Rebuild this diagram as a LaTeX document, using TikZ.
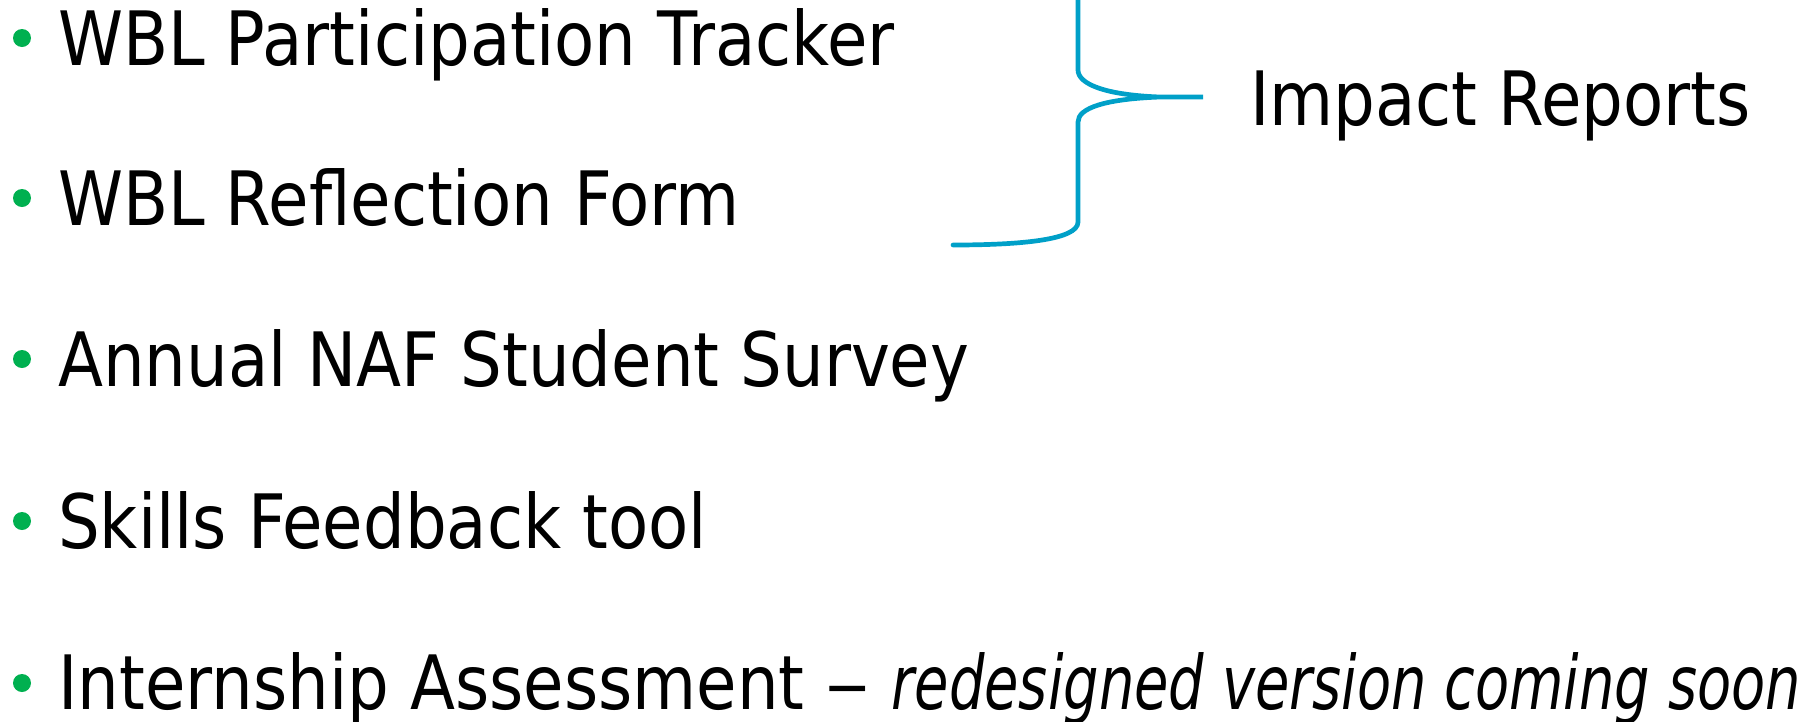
\documentclass[tikz,border=0pt]{standalone}
\usepackage{graphicx}
\usepackage{fontspec}
\setmainfont{DejaVu Sans}[FakeStretch=0.877]
\newfontfamily\reditfont{DejaVu Sans}[FakeStretch=0.745]
\definecolor{bulletgreen}{RGB}{0,176,80}
\definecolor{bracecol}{RGB}{0,160,200}
\tikzset{
  item/.style={anchor=base west, inner sep=0pt, font=\fontsize{75}{80}\selectfont},
  dot/.style={circle, fill=bulletgreen, inner sep=0pt, minimum size=18pt},
  bracepath/.style={draw=bracecol, line width=4.7pt, line cap=round},
}
\begin{document}
\begin{tikzpicture}[x=1pt,y=-1pt]
\useasboundingbox (0,0) rectangle (1814,721);
\node[dot] (b1) at (22,38) {};
\node[dot] (b2) at (22,198) {};
\node[dot] (b3) at (22,359) {};
\node[dot] (b4) at (22,521) {};
\node[dot] (b5) at (22,683) {};
\node[item] (t1) at (58,65) {WBL Participation Tracker};
\node[item] (t2) at (58,225) {WBL Reflection Form};
\node[item] (t3) at (58,386) {Annual NAF Student Survey};
\node[item] (t4) at (58,548) {Skills Feedback tool};
\node[item] (t5) at (58,709) {Internship Assessment \scalebox{1.35}[1]{--}\hspace{1pt} {\reditfont\itshape redesigned version coming soon}};
\node[item] (ir) at (1250,125) {Impact Reports};
\begin{scope}
\clip (0,0) rectangle (1814,721);
\draw[bracepath] (1078,-10) -- (1078,70)
  .. controls (1078,84) and (1105,95) .. (1160,97) -- (1203,97)
  -- (1160,97) .. controls (1105,99) and (1078,108) .. (1078,122)
  -- (1078,222) .. controls (1078,240) and (1020,245) .. (953,245);
\end{scope}
\end{tikzpicture}
\end{document}
